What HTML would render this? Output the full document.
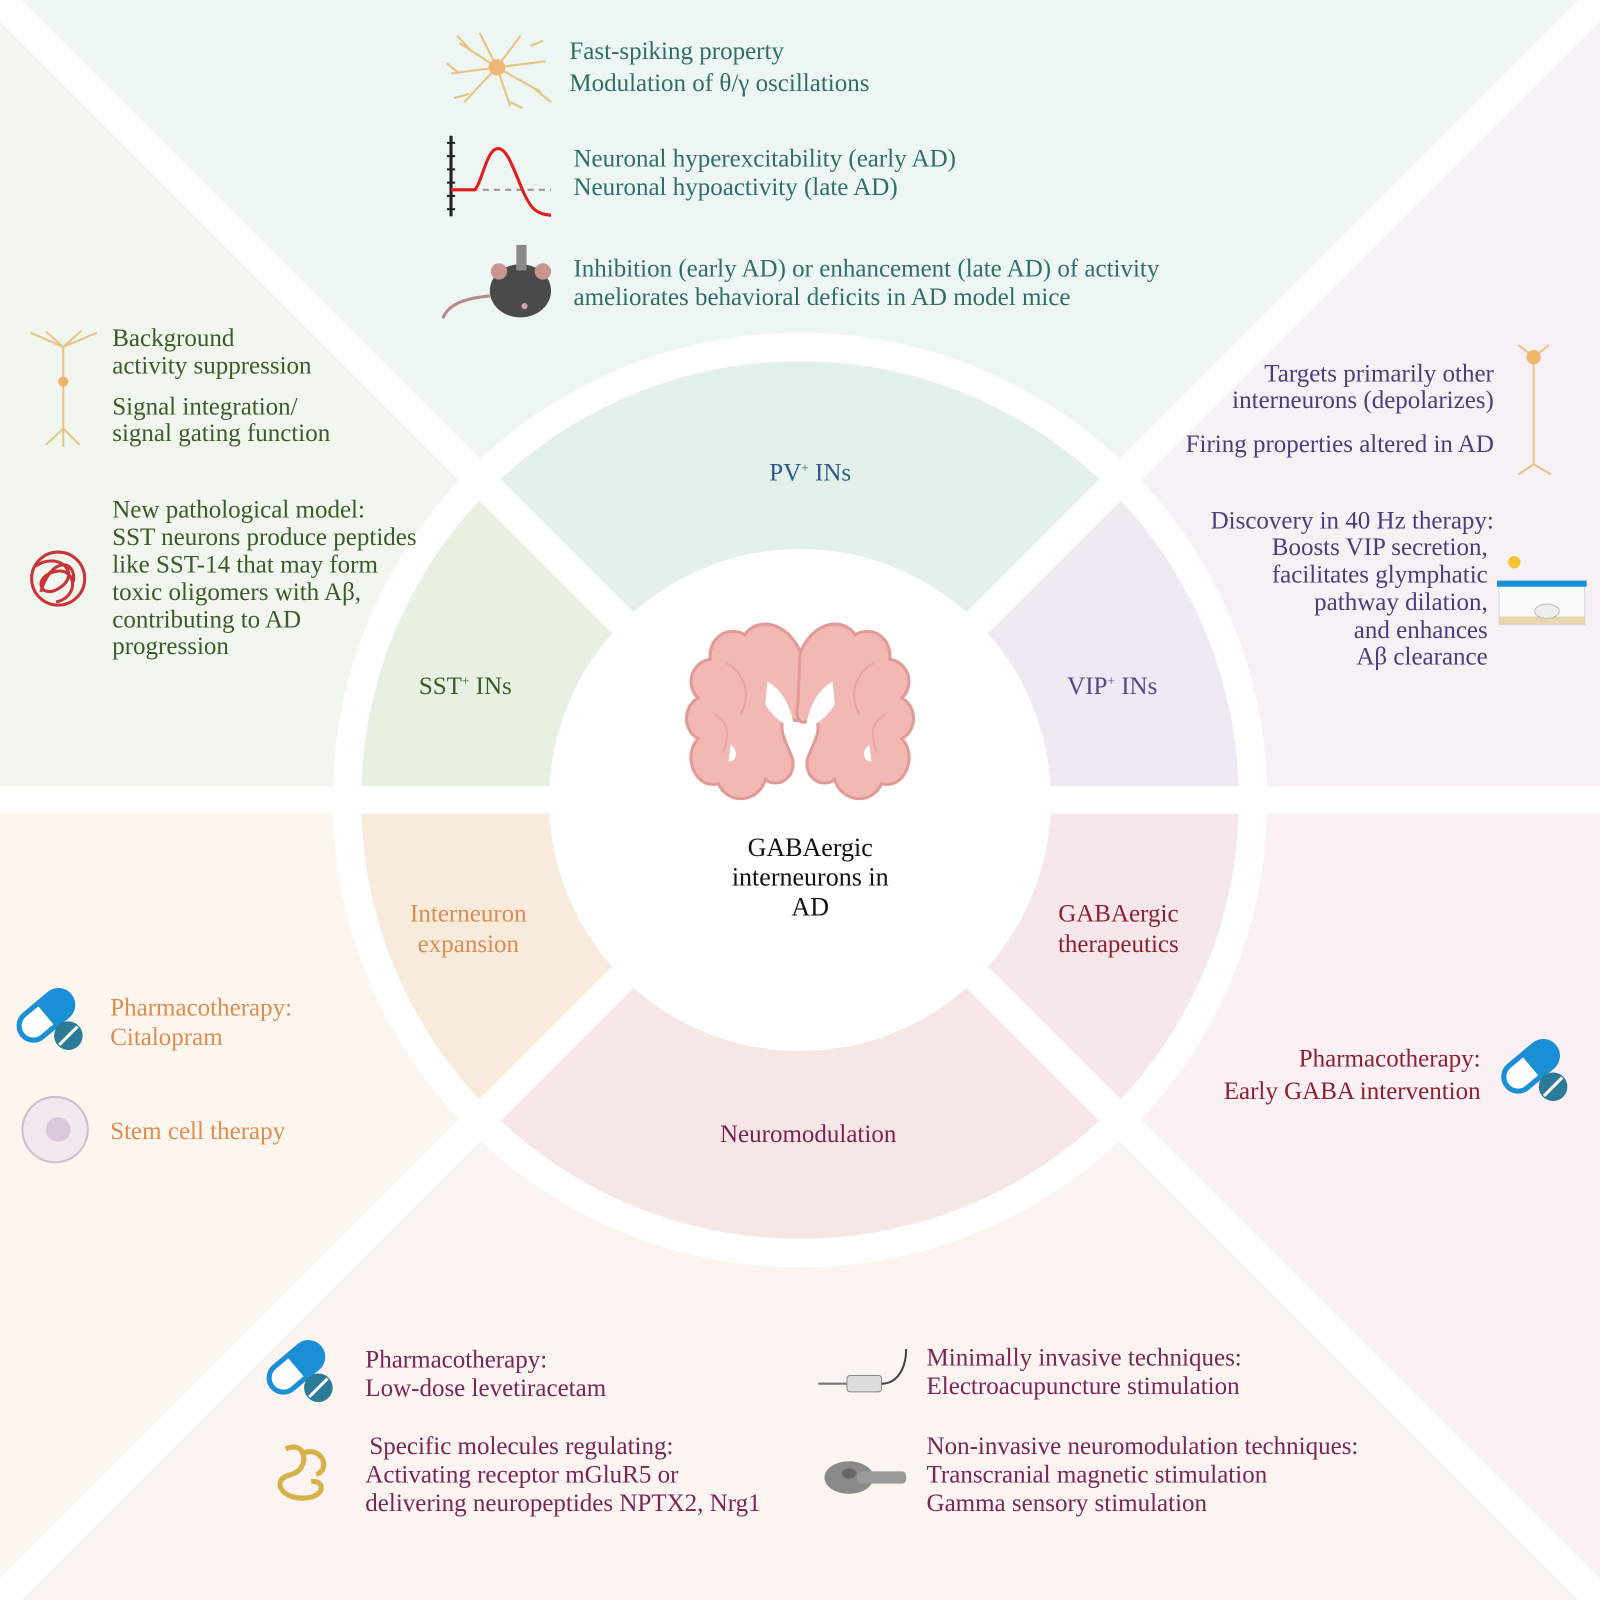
<!DOCTYPE html>
<html><head><meta charset="utf-8"><style>
html,body{margin:0;padding:0;background:#fff;}
svg{display:block;}
svg text{font-family:"Liberation Serif","Times New Roman",serif !important;}
</style></head><body>
<svg width="1600" height="1600" viewBox="0 0 1568 1568" xmlns="http://www.w3.org/2000/svg" font-family="Liberation Serif, serif" font-size="24.5">
<defs>
<clipPath id="cT"><polygon points="0,0 1568,0 784,784"/></clipPath>
<clipPath id="cL"><polygon points="0,0 784,784 0,784"/></clipPath>
<clipPath id="cR"><polygon points="1568,0 1568,784 784,784"/></clipPath>
<clipPath id="cBL"><polygon points="0,784 784,784 0,1568"/></clipPath>
<clipPath id="cBR"><polygon points="1568,784 1568,1568 784,784"/></clipPath>
<clipPath id="cB"><polygon points="0,1568 1568,1568 784,784"/></clipPath>
<g id="pill">
 <g transform="rotate(-40)">
  <rect x="-30" y="-14" width="60" height="28" rx="14" fill="#fff" stroke="#1a8fd6" stroke-width="5"/>
  <path d="M0,-14 H16 A14,14 0 0 1 16,14 H0 Z" fill="#1a8fd6"/>
 </g>
 <circle cx="22" cy="20" r="14" fill="#2b7a98"/>
 <line x1="13" y1="29" x2="31" y2="11" stroke="#fff" stroke-width="3"/>
</g>
</defs>
<polygon points="0,0 1568,0 784,784" fill="#eef6f3"/>
<polygon points="0,0 784,784 0,784" fill="#f1f6ee"/>
<polygon points="1568,0 1568,784 784,784" fill="#f7f1f6"/>
<polygon points="0,784 784,784 0,1568" fill="#fdf6ee"/>
<polygon points="1568,784 1568,1568 784,784" fill="#fbf1f5"/>
<polygon points="0,1568 1568,1568 784,784" fill="#fbf4f1"/>
<circle cx="784" cy="784" r="458" fill="#fff"/>
<circle cx="784" cy="784" r="430" fill="#e4f1eb" clip-path="url(#cT)"/>
<circle cx="784" cy="784" r="430" fill="#e8f0e1" clip-path="url(#cL)"/>
<circle cx="784" cy="784" r="430" fill="#efe9f3" clip-path="url(#cR)"/>
<circle cx="784" cy="784" r="430" fill="#f9ebdc" clip-path="url(#cBL)"/>
<circle cx="784" cy="784" r="430" fill="#f6e7ed" clip-path="url(#cBR)"/>
<circle cx="784" cy="784" r="430" fill="#f6e7e6" clip-path="url(#cB)"/>
<line x1="0" y1="0" x2="1568" y2="1568" stroke="#fff" stroke-width="30"/>
<line x1="1568" y1="0" x2="0" y2="1568" stroke="#fff" stroke-width="30"/>
<line x1="0" y1="784" x2="1568" y2="784" stroke="#fff" stroke-width="27"/>
<circle cx="784" cy="784" r="246" fill="#fff"/>

<g fill="#f2b9b4" stroke="#e39a95" stroke-width="3">
<path d="M785,640 C770,606 740,606 730,622 C712,612 694,626 696,646 C676,650 672,672 684,684 C668,694 670,716 684,724 C668,742 682,774 704,768 C714,790 744,786 750,764 C764,774 782,760 776,742 C768,722 762,714 770,700 C782,712 790,706 786,690 Z"/>
<path d="M784,640 C798,606 828,606 838,622 C856,612 874,626 872,646 C892,650 896,672 884,684 C900,694 898,716 884,724 C900,742 886,774 864,768 C854,790 824,786 818,764 C804,774 786,760 792,742 C800,722 806,714 798,702 C786,714 778,706 782,690 Z"/>
</g>
<g fill="#fff">
<path d="M752,668 C765,675 775,690 778,712 C768,712 755,700 750,690 Z"/>
<path d="M816,668 C803,675 793,690 790,712 C800,712 813,700 818,690 Z"/>
<ellipse cx="784" cy="723" rx="6" ry="9"/>
<path d="M716,730 C724,734 722,748 714,746 Z"/>
<path d="M852,730 C844,734 846,748 854,746 Z"/>
</g>
<g fill="none" stroke="#e8a6a1" stroke-width="2">
<path d="M712,650 C730,660 736,680 726,700"/><path d="M856,650 C838,660 832,680 842,700"/>
<path d="M700,700 C714,708 716,720 708,738"/><path d="M868,700 C854,708 852,720 860,738"/>
</g>
<g fill="#111" text-anchor="middle" font-size="25.5">
<text x="794" y="839">GABAergic</text>
<text x="794" y="868">interneurons in</text>
<text x="794" y="897">AD</text>
</g>

<text x="794" y="471" text-anchor="middle" fill="#2d5a86">PV<tspan dy="-8" font-size="13">+</tspan><tspan dy="8"> INs</tspan></text>
<text x="456" y="680" text-anchor="middle" fill="#3d5a2c">SST<tspan dy="-8" font-size="13">+</tspan><tspan dy="8"> INs</tspan></text>
<text x="1090" y="680" text-anchor="middle" fill="#5a4684">VIP<tspan dy="-8" font-size="13">+</tspan><tspan dy="8"> INs</tspan></text>
<g text-anchor="middle" fill="#d98d55"><text x="459" y="903">Interneuron</text><text x="459" y="933">expansion</text></g>
<g text-anchor="middle" fill="#8e1f2c"><text x="1096" y="903">GABAergic</text><text x="1096" y="933">therapeutics</text></g>
<text x="792" y="1119" text-anchor="middle" fill="#7a2252">Neuromodulation</text>

<g fill="#2f6e68">
<text x="558" y="58">Fast-spiking property</text>
<text x="558" y="89">Modulation of θ/γ oscillations</text>
<text x="562" y="163">Neuronal hyperexcitability (early AD)</text>
<text x="562" y="191">Neuronal hypoactivity (late AD)</text>
<text x="562" y="271">Inhibition (early AD) or enhancement (late AD) of activity</text>
<text x="562" y="299">ameliorates behavioral deficits in AD model mice</text>
</g>
<g stroke="#e8c27e" stroke-width="2" fill="none">
<path d="M487,66 L450,42 M487,66 L510,35 M487,66 L535,60 M487,66 L530,90 M487,66 L500,104 M487,66 L455,100 M487,66 L442,72 M487,66 L470,32"/>
<path d="M460,48 L448,35 M520,45 L532,40 M525,88 L540,100 M460,92 L445,96 M500,100 L512,106 M450,72 L438,62"/>
</g>
<circle cx="487" cy="66" r="8" fill="#efb878"/>
<g>
<line x1="442" y1="133" x2="442" y2="212" stroke="#222" stroke-width="3"/>
<g stroke="#222" stroke-width="2"><line x1="438" y1="140" x2="446" y2="140"/><line x1="438" y1="153" x2="446" y2="153"/><line x1="438" y1="166" x2="446" y2="166"/><line x1="438" y1="179" x2="446" y2="179"/><line x1="438" y1="192" x2="446" y2="192"/><line x1="438" y1="205" x2="446" y2="205"/></g>
<line x1="462" y1="186" x2="540" y2="186" stroke="#999" stroke-width="2" stroke-dasharray="6,5"/>
<path d="M442,186 L465,186 C472,180 476,150 486,146 C496,142 503,165 512,186 C520,205 526,210 540,211" fill="none" stroke="#e01c1c" stroke-width="3"/>
</g>
<g>
<path d="M480,290 C460,292 440,296 434,312" stroke="#b78a86" stroke-width="3" fill="none"/>
<ellipse cx="510" cy="285" rx="30" ry="26" fill="#4a4a4a"/>
<circle cx="489" cy="266" r="8" fill="#c89590"/><circle cx="532" cy="266" r="8" fill="#c89590"/>
<rect x="506" y="240" width="10" height="25" fill="#8a8a8a"/>
<circle cx="514" cy="300" r="3" fill="#d8a0a0"/>
</g>

<g fill="#3b5a2a">
<text x="110" y="339">Background</text>
<text x="110" y="366">activity suppression</text>
<text x="110" y="406">Signal integration/</text>
<text x="110" y="432">signal gating function</text>
<text x="110" y="507">New pathological model:</text>
<text x="110" y="534">SST neurons produce peptides</text>
<text x="110" y="561">like SST-14 that may form</text>
<text x="110" y="588">toxic oligomers with Aβ,</text>
<text x="110" y="615">contributing to AD</text>
<text x="110" y="641">progression</text>
</g>
<g stroke="#e6c58a" stroke-width="2" fill="none">
<path d="M62,340 L62,420 M62,340 L30,326 M62,340 L95,326 M62,340 L45,325 M62,340 L80,324 M62,420 L45,436 M62,420 L78,436 M62,420 L62,438"/>
</g>
<circle cx="62" cy="374" r="5" fill="#eeb66a"/>
<g fill="none" stroke="#c7353a" stroke-width="3">
<circle cx="57" cy="567" r="26"/><path d="M35,555 C55,540 80,560 60,575 C40,590 30,565 55,560 C75,556 78,585 55,590"/>
<path d="M40,580 C50,545 75,548 72,570"/>
</g>

<g fill="#4c3c7a" text-anchor="end">
<text x="1464" y="374">Targets primarily other</text>
<text x="1464" y="400">interneurons (depolarizes)</text>
<text x="1464" y="443">Firing properties altered in AD</text>
<text x="1464" y="518">Discovery in 40 Hz therapy:</text>
<text x="1458" y="544">Boosts VIP secretion,</text>
<text x="1458" y="571">facilitates glymphatic</text>
<text x="1458" y="598">pathway dilation,</text>
<text x="1458" y="625">and enhances</text>
<text x="1458" y="651">Aβ clearance</text>
</g>
<g stroke="#e6c58a" stroke-width="2" fill="none">
<path d="M1503,350 L1503,455 M1503,350 L1488,338 M1503,350 L1518,338 M1503,455 L1488,465 M1503,455 L1520,465"/>
</g>
<circle cx="1503" cy="350" r="7" fill="#eeb66a"/>
<rect x="1469" y="574" width="84" height="38" fill="#fafafa" stroke="#cfd8dc"/>
<rect x="1467" y="569" width="88" height="6" fill="#1a8fd6"/>
<rect x="1469" y="604" width="84" height="8" fill="#e8d6b0"/>
<ellipse cx="1516" cy="599" rx="12" ry="7" fill="#eee" stroke="#bbb"/>
<circle cx="1484" cy="551" r="6" fill="#f4c430"/>

<use href="#pill" x="45" y="995"/>
<g fill="#e08c50">
<text x="108" y="995">Pharmacotherapy:</text>
<text x="108" y="1024">Citalopram</text>
<text x="108" y="1116">Stem cell therapy</text>
</g>
<circle cx="54" cy="1107" r="32" fill="#f1e8f0" stroke="#cdbfd0" stroke-width="2"/>
<circle cx="57" cy="1107" r="12" fill="#d8c8da"/>

<g fill="#8e1f2c" text-anchor="end">
<text x="1451" y="1045">Pharmacotherapy:</text>
<text x="1451" y="1077">Early GABA intervention</text>
</g>
<use href="#pill" x="1500" y="1045"/>

<use href="#pill" x="290" y="1340"/>
<g fill="#7a2557">
<text x="358" y="1340">Pharmacotherapy:</text>
<text x="358" y="1368">Low-dose levetiracetam</text>
<text x="362" y="1425">Specific molecules regulating:</text>
<text x="358" y="1453">Activating receptor mGluR5 or</text>
<text x="358" y="1481">delivering neuropeptides NPTX2, Nrg1</text>
<text x="908" y="1338">Minimally invasive techniques:</text>
<text x="908" y="1366">Electroacupuncture stimulation</text>
<text x="908" y="1425">Non-invasive neuromodulation techniques:</text>
<text x="908" y="1453">Transcranial magnetic stimulation</text>
<text x="908" y="1481">Gamma sensory stimulation</text>
</g>
<path d="M280,1420 C300,1410 305,1440 285,1445 C265,1450 275,1470 300,1468 C320,1466 318,1450 305,1452 M295,1425 C315,1415 325,1440 310,1445" fill="none" stroke="#d8b04a" stroke-width="5"/>
<g>
<line x1="802" y1="1356" x2="830" y2="1356" stroke="#777" stroke-width="2"/>
<rect x="830" y="1348" width="34" height="16" rx="3" fill="#ddd" stroke="#888"/>
<path d="M864,1356 C880,1356 888,1340 888,1322" fill="none" stroke="#444" stroke-width="2"/>
</g>
<g>
<ellipse cx="832" cy="1448" rx="24" ry="16" fill="#8a8a8a"/>
<rect x="840" y="1442" width="48" height="12" rx="4" fill="#9a9a9a"/>
<ellipse cx="832" cy="1444" rx="7" ry="5" fill="#666"/>
</g>
</svg>
</body></html>
